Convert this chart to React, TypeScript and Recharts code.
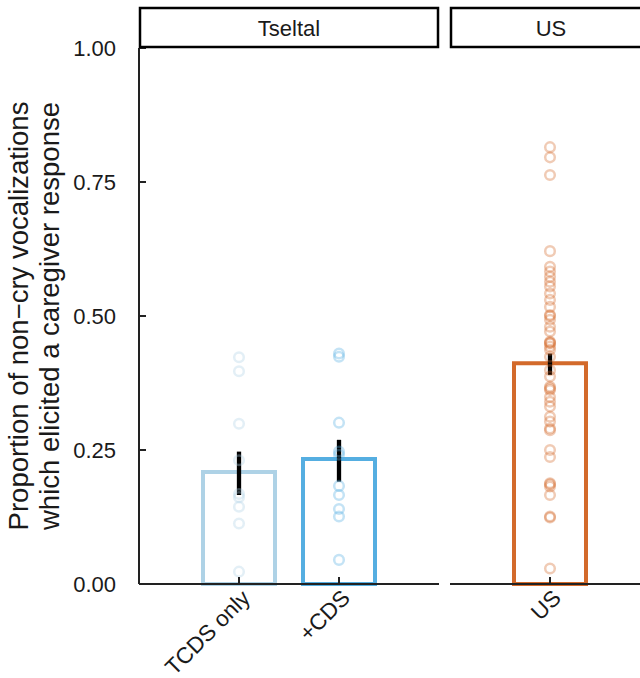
import { ComposedChart, Bar, Scatter, ErrorBar, XAxis, YAxis, Cell } from "recharts";

const FONT = "'Liberation Sans', Arial, Helvetica, sans-serif";

// Tseltal panel
const tseltalConds = ["TCDS only", "+CDS"];
const tseltalMeans = [0.209, 0.233];
const tseltalLow = [0.166, 0.191];
const tseltalHigh = [0.247, 0.269];
const tseltalColors = ["#aed2e6", "#55aee1"];

const tcdsOnlyPoints = [0.423, 0.397, 0.299, 0.231, 0.168, 0.162, 0.144, 0.113, 0.023];
const cdsPoints = [0.43, 0.424, 0.301, 0.247, 0.241, 0.183, 0.166, 0.14, 0.126, 0.045];

// US panel
const usConds = ["US"];
const usMeans = [0.412];
const usLow = [0.39];
const usHigh = [0.43];
const usColors = ["#d36a2b"];
const usPoints = [
  0.815, 0.796, 0.763, 0.621, 0.592, 0.583, 0.573, 0.564, 0.555, 0.542, 0.53,
  0.517, 0.502, 0.5, 0.493, 0.48, 0.471, 0.452, 0.449, 0.45, 0.443, 0.437,
  0.424, 0.399, 0.387, 0.368, 0.365, 0.362, 0.349, 0.34, 0.331, 0.312, 0.303,
  0.29, 0.287, 0.25, 0.237, 0.188, 0.186, 0.182, 0.166, 0.126, 0.124, 0.029,
];

const yTicks = [0, 0.25, 0.5, 0.75, 1];

const buildBars = (conds: string[], means: number[], low: number[], high: number[]) =>
  conds.map((cond, i) => ({
    cond,
    mean: means[i],
    err: [means[i] - low[i], high[i] - means[i]],
  }));

const tseltalData = buildBars(tseltalConds, tseltalMeans, tseltalLow, tseltalHigh);
const usData = buildBars(usConds, usMeans, usLow, usHigh);

const toPoints = (cond: string, values: number[]) => values.map((v) => ({ cond, v }));

const ring = (color: string, opacity: number) => (props: any) => (
  <circle
    cx={props.cx}
    cy={props.cy}
    r={4.8}
    fill="none"
    stroke={color}
    strokeWidth={2.5}
    strokeOpacity={opacity}
  />
);

const axisColor = "#222";

const YTick = (props: any) => {
  const { x, y, payload } = props;
  return (
    <g>
      <line x1={x} y1={y} x2={x + 7} y2={y} stroke={axisColor} strokeWidth={2} />
      <text
        x={x - 23}
        y={y}
        dy="0.36em"
        textAnchor="end"
        fontSize={22}
        fill="#1a1a1a"
        fontFamily={FONT}
      >
        {Number(payload.value).toFixed(2)}
      </text>
    </g>
  );
};

const XTick = (props: any) => {
  const { x, y, payload } = props;
  const ax = x + 1;
  const ay = y + 4;
  return (
    <g>
      <line x1={x} y1={y} x2={x} y2={y - 7} stroke={axisColor} strokeWidth={2} />
      <text
        x={ax}
        y={ay}
        dy="0.72em"
        textAnchor="end"
        fontSize={22.5}
        fill="#1a1a1a"
        fontFamily={FONT}
        transform={`rotate(-45, ${ax}, ${ay})`}
      >
        {payload.value}
      </text>
    </g>
  );
};

const YLabel = () => (
  <g>
    <text
      transform="rotate(-90)"
      x={-316}
      y={28}
      textAnchor="middle"
      fontSize={27.5}
      fill="#1a1a1a"
      fontFamily={FONT}
    >
      Proportion of non−cry vocalizations
    </text>
    <text
      transform="rotate(-90)"
      x={-316}
      y={59}
      textAnchor="middle"
      fontSize={27.5}
      fill="#1a1a1a"
      fontFamily={FONT}
    >
      which elicited a caregiver response
    </text>
  </g>
);

const Hidden = () => <g />;

export default function App() {
  return (
    <div
      style={{
        position: "absolute",
        left: 0,
        top: 0,
        width: 640,
        height: 678,
        overflow: "hidden",
        background: "#fff",
        fontFamily: FONT,
      }}
    >
      <div style={{ position: "absolute", left: 0, top: 0 }}>
        <ComposedChart
          width={445}
          height={678}
          data={tseltalData}
          margin={{ top: 48, right: 6, bottom: 64, left: 0 }}
        >
          <XAxis
            dataKey="cond"
            type="category"
            allowDuplicatedCategory={false}
            padding={{ left: 50, right: 50 }}
            height={30}
            tickSize={0}
            tickMargin={0}
            tick={XTick}
            axisLine={{ stroke: axisColor, strokeWidth: 2 }}
            interval={0}
          />
          <YAxis
            type="number"
            domain={[0, 1]}
            ticks={yTicks}
            width={139}
            tickSize={0}
            tickMargin={0}
            tick={YTick}
            axisLine={{ stroke: axisColor, strokeWidth: 2 }}
            label={<YLabel />}
          />
          <Bar dataKey="mean" barSize={72} fill="none" strokeWidth={4} isAnimationActive={false}>
            {tseltalData.map((d, i) => (
              <Cell key={d.cond} fill="none" stroke={tseltalColors[i]} />
            ))}
          </Bar>
          <Scatter
            data={toPoints(tseltalConds[0], tcdsOnlyPoints)}
            dataKey="v"
            shape={ring(tseltalColors[0], 0.35)}
            isAnimationActive={false}
          />
          <Scatter
            data={toPoints(tseltalConds[1], cdsPoints)}
            dataKey="v"
            shape={ring(tseltalColors[1], 0.35)}
            isAnimationActive={false}
          />
          <Scatter data={tseltalData} dataKey="mean" shape={Hidden} isAnimationActive={false}>
            <ErrorBar dataKey="err" direction="y" width={0} strokeWidth={4.3} stroke="#000" />
          </Scatter>
        </ComposedChart>
      </div>

      <div style={{ position: "absolute", left: 445, top: 0 }}>
        <ComposedChart
          width={205}
          height={678}
          data={usData}
          margin={{ top: 48, right: 0, bottom: 64, left: 5 }}
        >
          <XAxis
            dataKey="cond"
            type="category"
            allowDuplicatedCategory={false}
            padding={{ left: 50, right: 50 }}
            height={30}
            tickSize={0}
            tickMargin={0}
            tick={XTick}
            axisLine={{ stroke: axisColor, strokeWidth: 2 }}
            interval={0}
          />
          <YAxis type="number" domain={[0, 1]} ticks={yTicks} hide />
          <Bar dataKey="mean" barSize={72} fill="none" strokeWidth={4} isAnimationActive={false}>
            {usData.map((d, i) => (
              <Cell key={d.cond} fill="none" stroke={usColors[i]} />
            ))}
          </Bar>
          <Scatter
            data={toPoints(usConds[0], usPoints)}
            dataKey="v"
            shape={ring(usColors[0], 0.35)}
            isAnimationActive={false}
          />
          <Scatter data={usData} dataKey="mean" shape={Hidden} isAnimationActive={false}>
            <ErrorBar dataKey="err" direction="y" width={0} strokeWidth={4.3} stroke="#000" />
          </Scatter>
        </ComposedChart>
      </div>

      <svg
        width={640}
        height={60}
        style={{ position: "absolute", left: 0, top: 0, pointerEvents: "none" }}
      >
        <rect x={140} y={8} width={298} height={39} fill="#fff" stroke="#000" strokeWidth={2.5} />
        <text x={289} y={28} dy="0.36em" textAnchor="middle" fontSize={22} fill="#1a1a1a" fontFamily={FONT}>
          Tseltal
        </text>
        <rect x={451} y={8} width={200} height={39} fill="#fff" stroke="#000" strokeWidth={2.5} />
        <text x={551} y={28} dy="0.36em" textAnchor="middle" fontSize={22} fill="#1a1a1a" fontFamily={FONT}>
          US
        </text>
      </svg>
    </div>
  );
}
